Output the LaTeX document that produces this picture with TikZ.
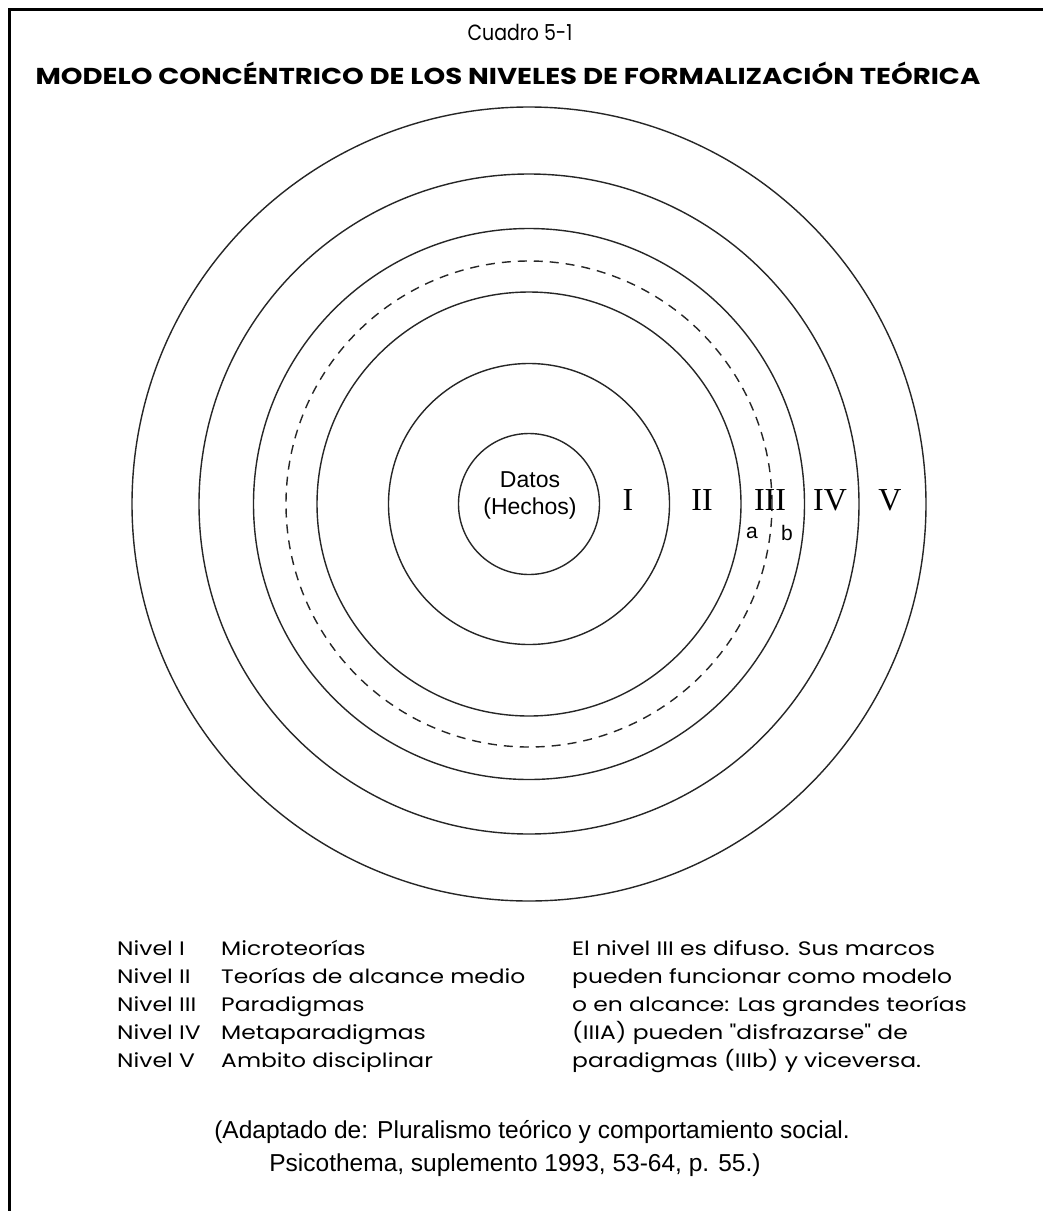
\documentclass[tikz,border=0pt]{standalone}
\usepackage{fontspec}
\setmainfont{Liberation Sans}
\newfontfamily\gothic{Poppins}
\newfontfamily\romanf{Liberation Serif}
\begin{document}
\begin{tikzpicture}[x=1pt,y=-1pt,
  ring/.style={draw=black!85,line width=1.4pt,circle,inner sep=0pt,minimum size=#1},
  dring/.style={ring=#1,dash pattern=on 9pt off 7pt},
  num/.style={font=\romanf\fontsize{32}{32}\selectfont,inner sep=0pt},
  sub/.style={font=\fontsize{21}{21}\selectfont,inner sep=0pt},
  legend/.style={font=\gothic\fontsize{19.5}{19.5}\selectfont,inner sep=0pt,anchor=base west,xscale=1.2},
  cite/.style={font=\fontsize{24.5}{24.5}\selectfont,inner sep=0pt,anchor=base}]
\useasboundingbox (0,0) rectangle (1043,1211);
\fill[white] (0,0) rectangle (1043,1211);
\coordinate (tl) at (9,9);
\coordinate (tr) at (1043,9);
\coordinate (bl) at (9,1211);
\draw[line width=3pt] (bl) -- (tl) -- (tr);

\node[font=\gothic\fontsize{22}{22}\selectfont,inner sep=0pt,xscale=0.86] (cuadro) at (520,32) {Cuadro 5-1};
\node[font=\gothic\bfseries\fontsize{23}{23}\selectfont,inner sep=0pt,xscale=1.2] (title) at (508,73) {MODELO CONCÉNTRICO DE LOS NIVELES DE FORMALIZACIÓN TEÓRICA};

\node[ring=794pt] (c5) at (529,504) {};
\node[ring=660pt] (c4) at (529,504) {};
\node[ring=551pt] (c3) at (529,504) {};
\node[dring=486pt] (cd) at (529,504) {};
\node[ring=424pt] (c2) at (529,504) {};
\node[ring=281pt] (c1) at (529,504) {};
\node[ring=141pt] (c0) at (529,504) {};

\node[align=center,font=\fontsize{23}{27}\selectfont,inner sep=0pt] (datos) at (530,495) {Datos\\(Hechos)};
\node[num] (n1) at (628,500) {I};
\node[num] (n2) at (702,500) {II};
\node[num] (n3) at (770,500) {III};
\node[num] (n4) at (830,500) {IV};
\node[num] (n5) at (890,500) {V};
\node[sub] (sa) at (752,533) {a};
\node[sub] (sb) at (787,533) {b};

\node[legend] (l1) at (117,955) {Nivel I};
\node[legend] (l2) at (117,983) {Nivel II};
\node[legend] (l3) at (117,1011) {Nivel III};
\node[legend] (l4) at (117,1039) {Nivel IV};
\node[legend] (l5) at (117,1067) {Nivel V};
\node[legend] (m1) at (221,955) {Microteorías};
\node[legend] (m2) at (221,983) {Teorías de alcance medio};
\node[legend] (m3) at (221,1011) {Paradigmas};
\node[legend] (m4) at (221,1039) {Metaparadigmas};
\node[legend] (m5) at (221,1067) {Ambito disciplinar};

\node[legend] (r1) at (572,955) {El nivel III es difuso. Sus marcos};
\node[legend] (r2) at (572,983) {pueden funcionar como modelo};
\node[legend] (r3) at (572,1011) {o en alcance: Las grandes teorías};
\node[legend] (r4) at (572,1039) {(IIIA) pueden "disfrazarse" de};
\node[legend] (r5) at (572,1067) {paradigmas (IIIb) y viceversa.};

\node[cite] (cite1) at (532,1138) {(Adaptado de: Pluralismo teórico y comportamiento social.};
\node[cite] (cite2) at (515,1171) {Psicothema, suplemento 1993, 53-64, p. 55.)};
\end{tikzpicture}
\end{document}
